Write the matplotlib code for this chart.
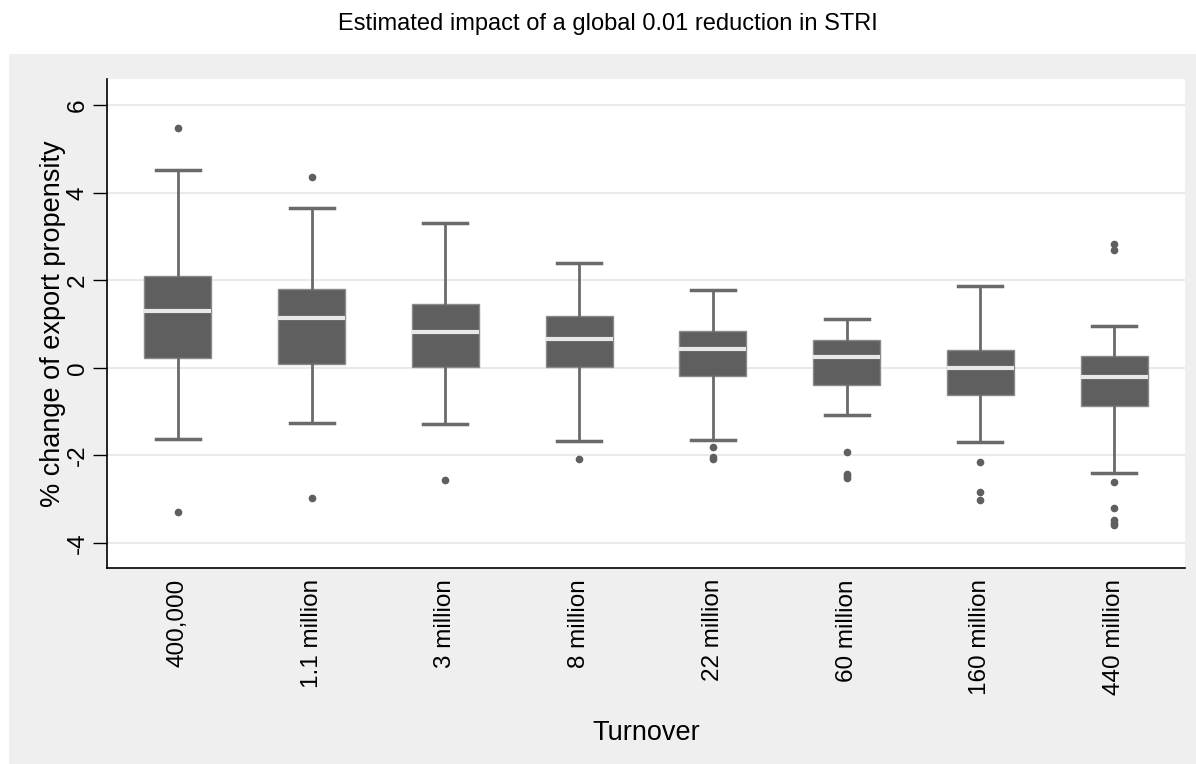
import matplotlib
matplotlib.use("Agg")
import matplotlib.pyplot as plt
from matplotlib.patches import Rectangle

plt.rcParams['font.family'] = ['Liberation Sans', 'DejaVu Sans']

# turnover classes and box statistics (% change of export propensity)
turnover = ['400,000', '1.1 million', '3 million', '8 million',
            '22 million', '60 million', '160 million', '440 million']
whis_hi = [4.53, 3.65, 3.31, 2.40, 1.77, 1.12, 1.88, 0.96]
q3 = [2.11, 1.80, 1.45, 1.19, 0.85, 0.64, 0.40, 0.28]
median = [1.31, 1.13, 0.81, 0.66, 0.44, 0.25, 0.00, -0.21]
q1 = [0.23, 0.09, 0.03, 0.01, -0.18, -0.38, -0.62, -0.88]
whis_lo = [-1.63, -1.26, -1.28, -1.68, -1.64, -1.07, -1.70, -2.41]
outliers = [
    [5.47, -3.30],
    [4.37, -2.97],
    [-2.57],
    [-2.09],
    [-1.80, -2.04, -2.08],
    [-1.91, -2.42, -2.47, -2.52],
    [-2.15, -2.84, -3.01],
    [2.82, 2.70, -2.61, -3.21, -3.48, -3.55, -3.58],
]
yticks = [-4, -2, 0, 2, 4, 6]

stats = []
for i in range(len(turnover)):
    stats.append({'med': median[i], 'q1': q1[i], 'q3': q3[i],
                  'whislo': whis_lo[i], 'whishi': whis_hi[i],
                  'fliers': outliers[i]})

fig = plt.figure(figsize=(11.96, 7.64), dpi=100)
fig.patch.set_facecolor('white')
# grey graph region under the plot
fig.patches.append(Rectangle((9 / 1196, 0), 1 - 9 / 1196, (764 - 54) / 764,
                             transform=fig.transFigure, facecolor='#efefef',
                             edgecolor='none', zorder=-10))

ax = fig.add_axes([107 / 1196, (764 - 568) / 764, 1078 / 1196, 489 / 764])
ax.set_facecolor('white')

box_col = '#5f5f5f'
line_col = '#6a6a6a'
positions = list(range(1, len(turnover) + 1))
ax.bxp(stats, positions=positions, widths=0.5, patch_artist=True,
       showfliers=True,
       boxprops=dict(facecolor=box_col, edgecolor='#8a8a8a', linewidth=1),
       medianprops=dict(color='#e8e8e8', linewidth=3, solid_capstyle='butt'),
       whiskerprops=dict(color=line_col, linewidth=2),
       capprops=dict(color=line_col, linewidth=2.5),
       capwidths=0.33,
       flierprops=dict(marker='o', markersize=4.5, markerfacecolor=box_col,
                       markeredgecolor=box_col, linestyle='none'))

ax.set_xlim(0.47, 8.53)
ax.set_ylim(-4.57, 6.6)
ax.set_yticks(yticks)
ax.set_yticklabels([str(v) for v in yticks], rotation=90, va='center',
                   fontsize=17.5)
ax.set_xticks(positions)
ax.set_xticklabels(turnover, rotation=90, fontsize=17.5)
ax.tick_params(axis='x', length=0, pad=8)
ax.tick_params(axis='y', length=10, width=1, pad=3, color='black')

ax.yaxis.grid(True, color='#eaeaea', linewidth=1.5)
ax.set_axisbelow(True)
for s in ['top', 'right']:
    ax.spines[s].set_visible(False)
for s in ['left', 'bottom']:
    ax.spines[s].set_linewidth(1.2)
    ax.spines[s].set_color('black')

ax.set_ylabel('% change of export propensity', fontsize=19.5, labelpad=1)
ax.set_xlabel('Turnover', fontsize=19.5, labelpad=18)

fig.text(608 / 1196, 1 - 24 / 764,
         'Estimated impact of a global 0.01 reduction in STRI',
         ha='center', va='center', fontsize=17)

fig.savefig('out.png', dpi=100)
